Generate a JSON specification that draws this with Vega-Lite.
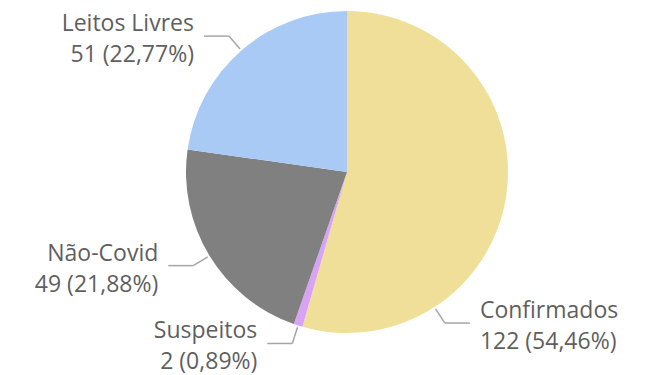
{
  "$schema": "https://vega.github.io/schema/vega-lite/v6.json",
  "width": 322,
  "height": 322,
  "autosize": {"type": "none"},
  "padding": {"left": 186, "top": 11, "right": 140, "bottom": 42},
  "background": "white",
  "config": {"view": {"stroke": null}},
  "data": {
    "values": [
      {"category": "Confirmados", "value": 122, "order": 1},
      {"category": "Suspeitos", "value": 2, "order": 2},
      {"category": "Não-Covid", "value": 49, "order": 3},
      {"category": "Leitos Livres", "value": 51, "order": 4}
    ]
  },
  "layer": [
    {
      "mark": {"type": "arc"},
      "encoding": {
        "theta": {"field": "value", "type": "quantitative", "stack": true},
        "order": {"field": "order", "type": "quantitative", "sort": "ascending"},
        "color": {
          "field": "category",
          "type": "nominal",
          "scale": {
            "domain": ["Confirmados", "Suspeitos", "Não-Covid", "Leitos Livres"],
            "range": ["#EFDF98", "#D8A3F5", "#808080", "#A8CAF5"]
          },
          "legend": null
        }
      }
    },
    {
      "transform": [
        {"joinaggregate": [{"op": "sum", "field": "value", "as": "total"}]},
        {"stack": "value", "groupby": [], "sort": [{"field": "order", "order": "ascending"}], "as": ["v0", "v1"]},
        {"calculate": "datum.category === 'Confirmados' ? 2*PI*(datum.v0 + 0.75*datum.value)/datum.total : PI*(datum.v0 + datum.v1)/datum.total", "as": "a"},
        {"calculate": "sin(datum.a) >= 0 ? 1 : -1", "as": "side"},
        {"calculate": "163*sin(datum.a)", "as": "x1"},
        {"calculate": "163*cos(datum.a)", "as": "y1"},
        {"calculate": "180*sin(datum.a)", "as": "xk"},
        {"calculate": "180*cos(datum.a)", "as": "yk"},
        {"calculate": "datum.xk + 25*datum.side", "as": "xe"},
        {"calculate": "datum.xe + 10*datum.side", "as": "xt"},
        {"calculate": "datum.category + '\\n' + datum.value + ' (' + replace(format(datum.value/datum.total, '.2%'), '.', ',') + ')'", "as": "label"}
      ],
      "layer": [
        {
          "mark": {"type": "rule", "color": "#A6A6A6", "strokeWidth": 1.5},
          "encoding": {
            "x": {"field": "x1", "type": "quantitative", "scale": {"domain": [-161, 161], "nice": false, "zero": false}, "axis": null},
            "y": {"field": "y1", "type": "quantitative", "scale": {"domain": [-161, 161], "nice": false, "zero": false}, "axis": null},
            "x2": {"field": "xk"},
            "y2": {"field": "yk"}
          }
        },
        {
          "mark": {"type": "rule", "color": "#A6A6A6", "strokeWidth": 1.5},
          "encoding": {
            "x": {"field": "xk", "type": "quantitative", "scale": {"domain": [-161, 161], "nice": false, "zero": false}, "axis": null},
            "y": {"field": "yk", "type": "quantitative", "scale": {"domain": [-161, 161], "nice": false, "zero": false}, "axis": null},
            "x2": {"field": "xe"}
          }
        },
        {
          "transform": [{"filter": "datum.side < 0"}],
          "mark": {"type": "text", "align": "right", "baseline": "middle", "dy": -12, "font": "Open Sans", "fontSize": 23, "lineHeight": 31, "lineBreak": "\n", "color": "#5F5F5F"},
          "encoding": {
            "x": {"field": "xt", "type": "quantitative", "scale": {"domain": [-161, 161], "nice": false, "zero": false}, "axis": null},
            "y": {"field": "yk", "type": "quantitative", "scale": {"domain": [-161, 161], "nice": false, "zero": false}, "axis": null},
            "text": {"field": "label", "type": "nominal"}
          }
        },
        {
          "transform": [{"filter": "datum.side > 0"}],
          "mark": {"type": "text", "align": "left", "baseline": "middle", "dy": -12, "font": "Open Sans", "fontSize": 23, "lineHeight": 31, "lineBreak": "\n", "color": "#5F5F5F"},
          "encoding": {
            "x": {"field": "xt", "type": "quantitative", "scale": {"domain": [-161, 161], "nice": false, "zero": false}, "axis": null},
            "y": {"field": "yk", "type": "quantitative", "scale": {"domain": [-161, 161], "nice": false, "zero": false}, "axis": null},
            "text": {"field": "label", "type": "nominal"}
          }
        }
      ]
    }
  ]
}
